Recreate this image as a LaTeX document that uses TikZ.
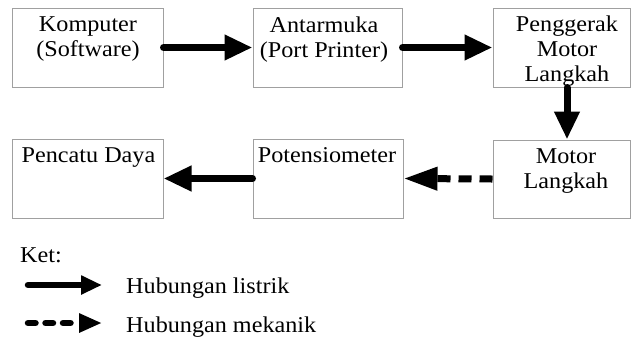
\documentclass[tikz,border=0pt]{standalone}
\usepackage{fontspec}
\setmainfont[FakeStretch=1.07]{Liberation Serif}
\usetikzlibrary{arrows.meta}
\definecolor{boxgray}{HTML}{A0A0A0}
\begin{document}
\begin{tikzpicture}[x=1bp,y=-1bp,
  box/.style={draw=boxgray, line width=1bp, inner sep=0pt, minimum height=79bp},
  lbl/.style={inner sep=0pt, align=center, font=\fontsize{22.6bp}{25bp}\selectfont},
  sarrow/.style={line width=7bp, line cap=round, -{Triangle[length=28bp,width=24bp]}},
  darrow/.style={line width=7bp, dash pattern=on 13bp off 8bp, -{Triangle[length=34bp,width=22bp]}},
  legsolid/.style={line width=6.5bp, line cap=round, -{Triangle[length=21bp,width=18bp]}},
  legdash/.style={line width=6.5bp, line cap=round, dash pattern=on 7.5bp off 10bp, -{Triangle[length=23bp,width=18bp]}}]
\useasboundingbox (0,0) rectangle (631,339);
% boxes
\node[box, minimum width=150bp] (b1) at (88,47.5) {};
\node[box, minimum width=149bp] (b2) at (327.5,47.5) {};
\node[box, minimum width=137bp] (b3) at (561.5,47.5) {};
\node[box, minimum width=137bp, minimum height=78bp] (b4) at (561.5,179) {};
\node[box, minimum width=150bp] (b5) at (328,178.5) {};
\node[box, minimum width=150bp] (b6) at (88,178.5) {};
% texts
\node[lbl, anchor=north] (t1) at (88,16.5) {Komputer\\(Software)};
\node[lbl, anchor=north] (t2) at (324,16.5) {Antarmuka\\(Port Printer)};
\node[lbl, anchor=north] (t3) at (567,15.5) {Penggerak\\Motor\\Langkah};
\node[lbl, anchor=north] (t4) at (566,148) {Motor\\Langkah};
\node[lbl, anchor=north] (t5) at (327,147.5) {Potensiometer};
\node[lbl, anchor=north] (t6) at (88.5,147.5) {Pencatu Daya};
% connectors
\draw[sarrow] (b1) -- (b2);
\draw[sarrow] (b2) -- (b3);
\draw[sarrow] ([xshift=5.5bp]b3.south) -- ([xshift=5.5bp]b4.north);
\draw[darrow] (b4.west) -- (b5.east);
\draw[sarrow] (b5) -- (b6);
% legend
\node[lbl, anchor=base west] (ket) at (20,262) {Ket:};
\coordinate (l1a) at (28,285);
\coordinate (l1b) at (102,285);
\coordinate (l2a) at (28,323);
\coordinate (l2b) at (102,323);
\draw[legsolid] (l1a) -- (l1b);
\draw[legdash] (l2a) -- (l2b);
\node[lbl, anchor=base west] (h1) at (126,293) {Hubungan listrik};
\node[lbl, anchor=base west] (h2) at (126,332) {Hubungan mekanik};
\end{tikzpicture}
\end{document}
